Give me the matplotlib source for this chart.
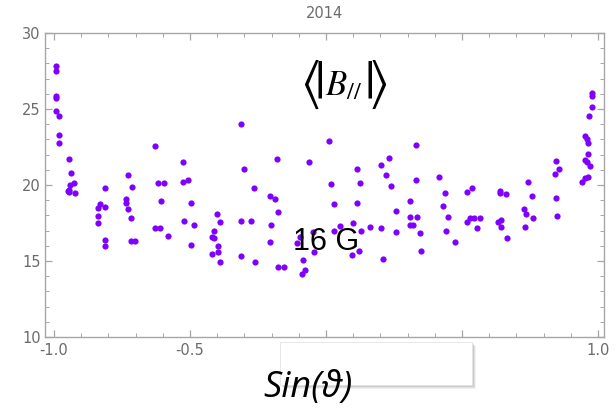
import matplotlib
matplotlib.use("Agg")
import matplotlib.pyplot as plt
from matplotlib.patches import Rectangle
from matplotlib.ticker import MultipleLocator

# data: Sin(theta) vs <|B_par|> (G)
sin_theta = [
    -0.991, -0.991, -0.991, -0.991, -0.991, -0.982, -0.982, -0.982,
    -0.945, -0.939, -0.948, -0.943, -0.940, -0.925, -0.923, -0.945,
    -0.812, -0.832, -0.838, -0.812, -0.838, -0.838, -0.812, -0.812,
    -0.728, -0.712, -0.734, -0.734, -0.728, -0.718, -0.718, -0.701,
    -0.629, -0.618, -0.597, -0.608, -0.627, -0.611, -0.581,
    -0.526, -0.526, -0.507, -0.497, -0.485, -0.523, -0.497,
    -0.401, -0.391, -0.412, -0.418, -0.412, -0.397, -0.397, -0.418, -0.391,
    -0.313, -0.301, -0.265, -0.312, -0.274, -0.312, -0.260,
    -0.181, -0.207, -0.187, -0.175, -0.201, -0.207, -0.175, -0.154,
    -0.064, -0.097, -0.105, -0.048, -0.044, -0.084, -0.078, -0.087,
    0.011, 0.020, 0.029, 0.050, 0.029,
    0.114, 0.125, 0.114, 0.099, 0.130, 0.097, 0.121, 0.162,
    0.230, 0.204, 0.220, 0.240, 0.256, 0.204, 0.256, 0.210,
    0.331, 0.330, 0.309, 0.309, 0.336, 0.309, 0.319, 0.347, 0.351,
    0.415, 0.436, 0.430, 0.449, 0.440, 0.476,
    0.520, 0.537, 0.520, 0.531, 0.543, 0.568, 0.557,
    0.641, 0.641, 0.663, 0.632, 0.645, 0.645, 0.667,
    0.742, 0.757, 0.728, 0.735, 0.761, 0.731,
    0.846, 0.858, 0.842, 0.846, 0.851,
    0.978, 0.978, 0.978, 0.968, 0.951, 0.960, 0.963, 0.963,
    0.951, 0.960, 0.969, 0.942, 0.951, 0.962,
]
b_par = [
    27.85, 27.52, 25.86, 25.70, 24.87, 24.54, 23.29, 22.78,
    21.73, 20.81, 19.60, 19.70, 20.00, 20.15, 19.50, 19.55,
    19.80, 18.73, 18.49, 18.57, 17.98, 17.48, 16.40, 15.99,
    20.63, 19.89, 19.08, 18.80, 18.40, 17.81, 16.32, 16.32,
    22.55, 20.15, 20.15, 18.97, 17.15, 17.20, 16.64,
    21.53, 20.22, 20.33, 18.84, 17.39, 17.65, 16.07,
    18.07, 17.59, 17.00, 16.60, 16.49, 15.99, 15.57, 15.48, 14.91,
    24.03, 21.05, 19.80, 17.65, 17.65, 15.33, 14.91,
    21.71, 19.30, 19.06, 18.25, 17.39, 16.23, 14.59, 14.59,
    21.53, 16.60, 16.20, 16.93, 15.57, 15.07, 14.41, 14.14,
    22.88, 20.07, 18.73, 17.32, 17.00,
    21.05, 20.15, 18.82, 17.48, 17.00, 15.40, 15.68, 17.24,
    21.80, 21.30, 20.64, 19.95, 18.31, 17.15, 16.91, 15.15,
    22.63, 20.31, 18.97, 17.89, 17.89, 17.39, 17.39, 16.82, 15.66,
    20.55, 19.47, 18.64, 17.89, 17.00, 16.23,
    19.54, 19.80, 17.57, 17.81, 17.81, 17.81, 17.15,
    19.63, 19.49, 19.41, 17.57, 17.70, 17.22, 16.49,
    20.22, 19.30, 18.40, 18.07, 17.81, 17.22,
    21.56, 21.05, 20.72, 19.14, 17.98,
    26.03, 25.87, 25.11, 24.54, 23.22, 23.00, 22.78, 22.02,
    21.64, 21.53, 21.25, 20.22, 20.44, 20.55,
]
title = "2014"
x_ticks = [-1.0, -0.5, 0.0, 0.5, 1.0]
y_ticks = [10, 15, 20, 25, 30]

gray = "#a6a6a6"
label_gray = "#6b6b6b"
plt.rcParams["mathtext.fontset"] = "stix"

fig = plt.figure(figsize=(6.16, 4.11), dpi=100)
ax = fig.add_axes([0.073, 0.180, 0.9075, 0.7397])
ax.scatter(sin_theta, b_par, s=20, color="#8000ff", linewidths=0, zorder=3)

ax.set_xlim(-1.033, 1.022)
ax.set_ylim(10, 30)
ax.set_xticks(x_ticks)
ax.set_yticks(y_ticks)
ax.xaxis.set_minor_locator(MultipleLocator(0.1))
ax.yaxis.set_minor_locator(MultipleLocator(1))
ax.set_xticklabels(["%.1f" % v for v in x_ticks])
ax.tick_params(which="both", direction="in", top=True, right=True,
               color=gray, labelcolor=label_gray, labelsize=10.5)
ax.tick_params(which="major", length=5, width=0.9)
ax.tick_params(which="minor", length=3, width=0.7)
ax.tick_params(axis="x", pad=4.5)
ax.tick_params(axis="y", pad=3)
for sp in ax.spines.values():
    sp.set_color(gray)
    sp.set_linewidth(1.0)
ax.set_title(title, color=label_gray, fontsize=10.5, pad=11)

# <|B_//|> built from pieces so the brackets can be tall
ax.text(0.4562, 0.8306, r"$\langle\!|$", transform=ax.transAxes, ha="left",
        va="center", fontsize=38, color="black", zorder=4)
ax.text(0.6118, 0.8306, r"$|\!\rangle$", transform=ax.transAxes, ha="right",
        va="center", fontsize=38, color="black", zorder=4)
ax.text(0.5009, 0.7961, r"$B_{//}$", transform=ax.transAxes, ha="left",
        va="baseline", fontsize=25, color="black", zorder=4)

ax.text(0.503, 0.312, "16 G", transform=ax.transAxes, ha="center",
        va="center", fontsize=22, family="Liberation Sans", color="black",
        zorder=4)

# white pasted box with soft shadow over the bottom axis labels
bx, by, bw, bh = 0.4545, 0.0633, 0.3117, 0.1047
for i, a in enumerate([0.05, 0.07, 0.09, 0.12]):
    off = (4 - i) / 616.0
    fig.patches.append(Rectangle((bx + off, by - off * 616 / 411), bw, bh,
                                 transform=fig.transFigure, facecolor="black",
                                 edgecolor="none", alpha=a, zorder=5))
fig.patches.append(Rectangle((bx, by), bw, bh, transform=fig.transFigure,
                             facecolor="white", edgecolor="#e4e4e4",
                             linewidth=0.6, zorder=6))

fig.text(0.4995, 0.034, "Sin(ϑ)", ha="center", va="baseline", fontsize=26,
         style="italic", family=["Open Sans", "DejaVu Sans"], color="black",
         zorder=7)

fig.savefig("out.png", dpi=100)
